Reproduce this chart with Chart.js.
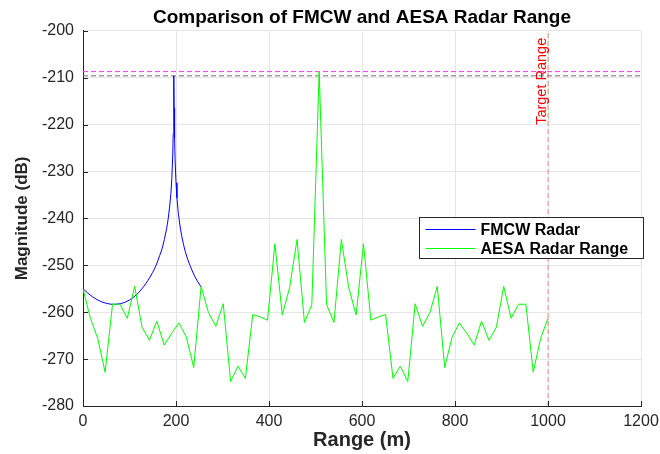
<!DOCTYPE html>
<html>
<head>
<meta charset="utf-8">
<script src="https://cdn.jsdelivr.net/npm/chart.js@4.4.1/dist/chart.umd.min.js"></script>
<style>
  html, body { margin: 0; padding: 0; background: #fff; }
  #wrap { width: 660px; height: 454px; }
</style>
</head>
<body>
<div id="wrap"><canvas id="radar-chart" width="660" height="454"></canvas></div>
<script>
// FMCW radar spectrum (range in m, magnitude in dB)
const fmcwRange = [0, 10, 20, 30, 40, 50, 60, 70, 80, 90, 100, 110, 120, 130, 140, 150,
    155, 160, 165, 170, 175, 180, 183, 186, 189, 191, 193, 194, 195, 195.5,
    196, 197, 198, 200, 202, 205, 208, 212, 216, 220, 225, 230, 235, 240, 245, 250, 254];
const fmcwMag = [-255.0, -255.9, -256.7, -257.3, -257.8, -258.1, -258.3, -258.3, -258.2, -257.9, -257.4, -256.7, -255.8, -254.6, -253.2, -251.5,
    -250.5, -249.3, -247.9, -246.5, -244.5, -242.1, -240.2, -237.8, -234.7, -231.5, -226.5, -222.0, -216.0, -209.6,
    -216.5, -222.8, -227.3, -232.4, -235.6, -238.9, -241.2, -243.6, -245.5, -247.1, -248.7, -250.0, -251.2, -252.3, -253.2, -254.0, -254.6];

// AESA radar range profile
const aesaRange = [0, 15.9, 31.7, 47.6, 63.5, 79.4, 95.2, 111.1, 127.0, 142.9, 158.7, 174.6, 190.5, 206.3, 222.2, 238.1,
    254.0, 269.8, 285.7, 301.6, 317.5, 333.3, 349.2, 365.1, 381.0, 396.8, 412.7, 428.6, 444.4, 460.3, 476.2, 492.1,
    507.9, 523.8, 539.7, 555.6, 571.4, 587.3, 603.2, 619.0, 634.9, 650.8, 666.7, 682.5, 698.4, 714.3, 730.2, 746.0,
    761.9, 777.8, 793.7, 809.5, 825.4, 841.3, 857.1, 873.0, 888.9, 904.8, 920.6, 936.5, 952.4, 968.3, 984.1, 1000.0];
const aesaMag = [-255.0, -261.3, -265.6, -272.8, -258.3, -258.3, -261.3, -254.5, -263.2, -266.0, -261.9, -267.0, -264.5, -262.3, -265.3, -271.8,
    -254.5, -260.1, -263.0, -258.2, -274.8, -271.5, -274.1, -260.5, -261.0, -261.7, -245.4, -260.6, -254.7, -244.5, -262.2, -258.4,
    -208.7, -258.4, -262.2, -244.5, -254.7, -260.6, -245.4, -261.7, -261.0, -260.5, -274.1, -271.5, -274.8, -258.2, -263.0, -260.1,
    -254.5, -271.8, -265.3, -262.3, -264.5, -267.0, -261.9, -266.0, -263.2, -254.5, -261.3, -258.3, -258.3, -272.8, -265.6, -261.3];

// reference lines
const aesaPeak = -208.7;
const fmcwPeak = -209.6;
const targetRange = 1000;

// axes
const xLimits = [0, 1200];
const yLimits = [-280, -200];

const seriesLabels = ['FMCW Radar', 'AESA Radar Range'];
const seriesColors = ['#0000ff', '#00ff00'];

const FONT = "'Liberation Sans', Arial, Helvetica, sans-serif";
Chart.defaults.font.family = FONT;

function toPoints(xs, ys) {
    return xs.map((x, i) => ({ x: x, y: ys[i] }));
}

// inward ticks, target label and legend box
const extrasPlugin = {
    id: 'radarExtras',
    afterDatasetsDraw(chart) {
        const ctx = chart.ctx;
        const area = chart.chartArea;
        const xs = chart.scales.x;
        const ys = chart.scales.y;
        ctx.save();

        // tick marks pointing into the plot
        ctx.strokeStyle = '#262626';
        ctx.lineWidth = 1;
        ctx.beginPath();
        ys.ticks.forEach(t => {
            const py = Math.round(ys.getPixelForValue(t.value)) + 0.5;
            ctx.moveTo(area.left, py);
            ctx.lineTo(area.left + 5, py);
        });
        xs.ticks.forEach(t => {
            const px = Math.round(xs.getPixelForValue(t.value)) + 0.5;
            ctx.moveTo(px, area.bottom);
            ctx.lineTo(px, area.bottom - 5);
        });
        ctx.stroke();

        // "Target Range" label beside the vertical line
        const tx = xs.getPixelForValue(targetRange);
        ctx.translate(tx - 6, area.top + 7);
        ctx.rotate(-Math.PI / 2);
        ctx.fillStyle = '#ff0000';
        ctx.font = '14.5px ' + FONT;
        ctx.textAlign = 'right';
        ctx.textBaseline = 'middle';
        ctx.fillText('Target Range', 0, 0);
        ctx.restore();

        // legend
        ctx.save();
        const lx = 419.5, ly = 217.5, lw = 224, lh = 41;
        ctx.fillStyle = '#ffffff';
        ctx.fillRect(lx, ly, lw, lh);
        ctx.strokeStyle = '#262626';
        ctx.lineWidth = 1;
        ctx.strokeRect(lx, ly, lw, lh);
        ctx.font = 'bold 16px ' + FONT;
        ctx.textBaseline = 'middle';
        ctx.textAlign = 'left';
        seriesLabels.forEach((label, i) => {
            const yy = Math.round(ly + 11 + i * 19) + 0.5;
            ctx.strokeStyle = seriesColors[i];
            ctx.lineWidth = 1;
            ctx.beginPath();
            ctx.moveTo(lx + 6, yy);
            ctx.lineTo(lx + 56, yy);
            ctx.stroke();
            ctx.fillStyle = '#000000';
            ctx.fillText(label, lx + 61, yy + 1);
        });
        ctx.restore();
    }
};

const ctx = document.getElementById('radar-chart').getContext('2d');
new Chart(ctx, {
    type: 'line',
    data: {
        datasets: [
            {
                label: seriesLabels[0],
                data: toPoints(fmcwRange, fmcwMag),
                borderColor: seriesColors[0],
                borderWidth: 1,
                pointRadius: 0,
                tension: 0,
                order: 2
            },
            {
                label: seriesLabels[1],
                data: toPoints(aesaRange, aesaMag),
                borderColor: seriesColors[1],
                borderWidth: 1,
                pointRadius: 0,
                tension: 0,
                order: 1
            },
            {
                label: 'AESA peak',
                data: toPoints(xLimits, [aesaPeak, aesaPeak]),
                borderColor: '#ff33ff',
                borderWidth: 1,
                borderDash: [5, 3],
                pointRadius: 0,
                order: 3
            },
            {
                label: 'FMCW peak',
                data: toPoints(xLimits, [fmcwPeak, fmcwPeak]),
                borderColor: '#707070',
                borderWidth: 1,
                borderDash: [5, 3],
                pointRadius: 0,
                order: 3
            },
            {
                label: 'Target Range',
                data: toPoints([targetRange, targetRange], yLimits),
                borderColor: 'rgba(255, 0, 0, 0.45)',
                borderWidth: 1,
                borderDash: [5, 3],
                pointRadius: 0,
                order: 3
            }
        ]
    },
    options: {
        responsive: false,
        animation: false,
        devicePixelRatio: 1,
        layout: { padding: { top: 0, right: 19, bottom: 0, left: 0 } },
        plugins: {
            legend: { display: false },
            tooltip: { enabled: false },
            title: {
                display: true,
                fullSize: false,
                text: 'Comparison of FMCW and AESA Radar Range',
                color: '#000000',
                font: { size: 19, weight: 'bold' },
                padding: { top: 6, bottom: 2 }
            }
        },
        scales: {
            x: {
                type: 'linear',
                min: xLimits[0],
                max: xLimits[1],
                afterFit: scale => {
                    scale.height = 48;
                    scale.paddingLeft = 0;
                    scale.paddingRight = 0;
                },
                ticks: {
                    stepSize: 200, color: '#262626', font: { size: 16 }, padding: 6, maxRotation: 0,
                    callback: v => String(v)
                },
                grid: { color: '#e6e6e6', lineWidth: 1, drawTicks: false },
                border: { display: true, color: '#262626', width: 1 },
                title: {
                    display: true,
                    text: 'Range (m)',
                    color: '#262626',
                    font: { size: 20, weight: 'bold' },
                    padding: { top: 0, bottom: 2 }
                }
            },
            y: {
                type: 'linear',
                min: yLimits[0],
                max: yLimits[1],
                afterFit: scale => { scale.width = 83; },
                ticks: { stepSize: 10, color: '#262626', font: { size: 16 }, padding: 9 },
                grid: { color: '#e6e6e6', lineWidth: 1, drawTicks: false },
                border: { display: true, color: '#262626', width: 1 },
                title: {
                    display: true,
                    text: 'Magnitude (dB)',
                    color: '#262626',
                    font: { size: 17, weight: 'bold' },
                    padding: { top: 12, bottom: 0 }
                }
            }
        }
    },
    plugins: [extrasPlugin]
});
</script>
</body>
</html>
